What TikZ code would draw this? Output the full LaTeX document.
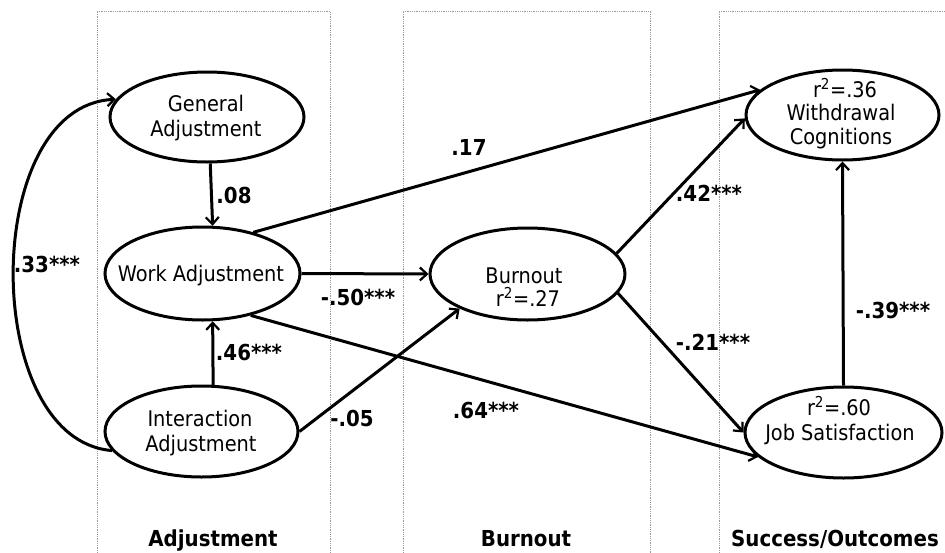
\documentclass[tikz,border=0pt]{standalone}
\usepackage{fontspec}
\setmainfont{DejaVu Sans Condensed}
\usetikzlibrary{arrows.meta,shapes.geometric}
\tikzset{
  var/.style={ellipse, draw, line width=3pt, inner sep=0pt},
  txt/.style={font=\fontsize{21.5}{24}\selectfont, text height=0.7em, text depth=0pt, inner sep=0pt, yshift=-4.5pt},
  col/.style={draw=gray!80, densely dotted, line width=0.8pt},
  path/.style={line width=3pt, -{Straight Barb[length=7pt,width=13pt,line width=2.2pt]}},
  coef/.style={font=\bfseries\fontsize{22}{24}\selectfont, text height=0.7em, text depth=0pt, inner sep=0pt, yshift=-4.5pt},
  head/.style={font=\bfseries\fontsize{22}{24}\selectfont, text height=0.7em, text depth=0pt, inner sep=0pt, yshift=-4.5pt},
}
\begin{document}
\begin{tikzpicture}[x=1pt,y=-1pt]
\useasboundingbox (0,0) rectangle (945,552);
% columns
\draw[col] (97,560) -- (97,11) -- (330,11) -- (330,560);
\draw[col] (403,560) -- (403,11) -- (650,11) -- (650,560);
\draw[col] (719,560) -- (719,11) -- (960,11);
% ellipses
\node[var, minimum width=194pt, minimum height=90pt] (ga) at (207,117) {};
\node[var, minimum width=195pt, minimum height=93pt] (wa) at (202.5,273.5) {};
\node[var, minimum width=193pt, minimum height=91pt] (ia) at (201.5,431.5) {};
\node[var, minimum width=195pt, minimum height=92pt] (bo) at (527.5,274) {};
\node[var, minimum width=193pt, minimum height=90pt] (wc) at (842.5,115) {};
\node[var, minimum width=197pt, minimum height=91pt] (js) at (843.5,432.5) {};
% texts
\node[txt] (ga1) at (206,103) {General};
\node[txt] (ga2) at (206,128) {Adjustment};
\node[txt] (wa1) at (201,273) {Work Adjustment};
\node[txt] (ia1) at (200,418) {Interaction};
\node[txt] (ia2) at (201,443) {Adjustment};
\node[txt] (bo1) at (524,275) {Burnout};
\node[txt] (bo2) at (528,298) {r\textsuperscript{2}=.27};
\node[txt] (wc1) at (845,89) {r\textsuperscript{2}=.36};
\node[txt] (wc2) at (841,112) {Withdrawal};
\node[txt] (wc3) at (841,136) {Cognitions};
\node[txt] (js1) at (839,407) {r\textsuperscript{2}=.60};
\node[txt] (js2) at (840,432) {Job Satisfaction};
% edges
\draw[path] (ia.192) .. controls (-20,440) and (-20,105) .. (ga.169);
\draw[path] (ga.-86.4) -- (wa.78.4);
\draw[path] (ia.76.9) -- (wa.-78.4);
\draw[path] (wa.east) -- (bo.west);
\draw[path] (ia.east) -- (bo.-153);
\draw[path] (wa.39.4) -- (wc.163.8);
\draw[path] (wa.-41) -- (js.196.4);
\draw[path] (bo.13.2) -- (wc.182);
\draw[path] (bo.-12.3) -- (js.west);
\draw[path] (js.north) -- (wc.south);
% coefficients
\node[coef] (c33) at (47,264) {.33***};
\node[coef] (c08) at (234,195) {.08};
\node[coef] (c46) at (249,352) {.46***};
\node[coef] (c50) at (358,297) {-.50***};
\node[coef] (c05) at (352,418) {-.05};
\node[coef] (c17) at (469,147) {.17};
\node[coef] (c64) at (486,410) {.64***};
\node[coef] (c42) at (709,193) {.42***};
\node[coef] (c21) at (713,342) {-.21***};
\node[coef] (c39) at (893,310) {-.39***};
% headers
\node[head] (h1) at (213,538) {Adjustment};
\node[head] (h2) at (526,538) {Burnout};
\node[head] (h3) at (835,538) {Success/Outcomes};
\end{tikzpicture}
\end{document}
